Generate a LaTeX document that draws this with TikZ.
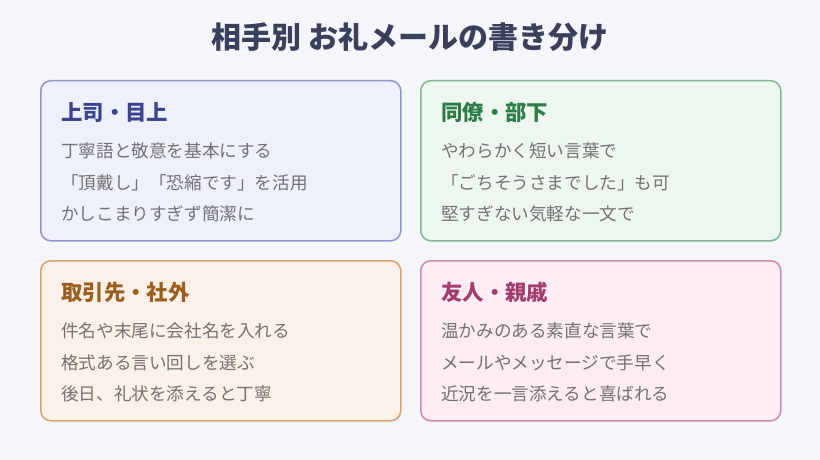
\documentclass[tikz,border=0pt]{standalone}
\usepackage{fontspec}
\setmainfont{Noto Sans CJK JP}
\begin{document}
\begin{tikzpicture}[x=1pt,y=-1pt,
  box/.style={draw,line width=1.5pt,rounded corners=10pt},
  head/.style={anchor=west,inner sep=0pt,font=\fontsize{21.4}{25}\selectfont\bfseries},
  body/.style={anchor=west,inner sep=0pt,text=txt,font=\fontsize{17.6}{21}\selectfont}]
\definecolor{bg}{HTML}{F5F6FA}
\definecolor{txt}{HTML}{727272}
\definecolor{fa}{HTML}{EEF0FB}\definecolor{da}{HTML}{8E96D0}\definecolor{ha}{HTML}{3C4490}
\definecolor{fb}{HTML}{EDF6EF}\definecolor{db}{HTML}{7DB88E}\definecolor{hb}{HTML}{2E7D46}
\definecolor{fc}{HTML}{FBF1E8}\definecolor{dc}{HTML}{D4A46A}\definecolor{hc}{HTML}{9A5E1E}
\definecolor{fd}{HTML}{FBEDF3}\definecolor{dd}{HTML}{D08AAE}\definecolor{hd}{HTML}{A33D6E}
\fill[bg] (0,0) rectangle (820,460);
\useasboundingbox (0,0) rectangle (820,460);
\node[font=\fontsize{30}{34}\selectfont\bfseries,text={rgb,255:red,58;green,63;blue,92}] (title) at (410,37) {相手別 お礼メールの書き分け};
\node[box,fill=fa,draw=da,minimum width=360pt,minimum height=160pt,anchor=north west] (b1) at (40,80) {};
\node[box,fill=fb,draw=db,minimum width=360pt,minimum height=160pt,anchor=north west] (b2) at (420,80) {};
\node[box,fill=fc,draw=dc,minimum width=360pt,minimum height=160pt,anchor=north west] (b3) at (40,260) {};
\node[box,fill=fd,draw=dd,minimum width=360pt,minimum height=160pt,anchor=north west] (b4) at (420,260) {};
\foreach \X/\Y/\c/\h/\a/\b/\d in {
 61/112/ha/上司・目上/丁寧語と敬意を基本にする/「頂戴し」「恐縮です」を活用/かしこまりすぎず簡潔に,
 441/112/hb/同僚・部下/やわらかく短い言葉で/「ごちそうさまでした」も可/堅すぎない気軽な一文で,
 61/292/hc/取引先・社外/件名や末尾に会社名を入れる/格式ある言い回しを選ぶ/後日、礼状を添えると丁寧,
 441/292/hd/友人・親戚/温かみのある素直な言葉で/メールやメッセージで手早く/近況を一言添えると喜ばれる}{
 \node[head,text=\c] at (\X,\Y) {\h};
 \node[body] at (\X,\Y+39) {\a};
 \node[body] at (\X,\Y+71) {\b};
 \node[body] at (\X,\Y+102) {\d};
}
\end{tikzpicture}
\end{document}
